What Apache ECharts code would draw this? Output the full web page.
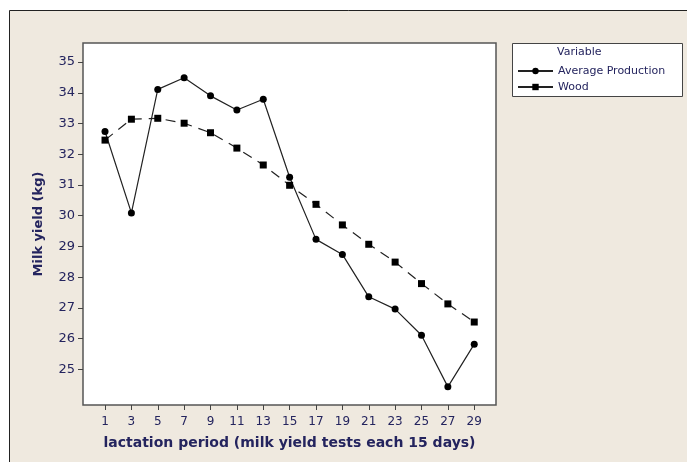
<!DOCTYPE html>
<html>
<head>
<meta charset="utf-8">
<script src="https://cdn.jsdelivr.net/npm/echarts@6/dist/echarts.min.js"></script>
<style>
  html, body { margin: 0; padding: 0; background: #ffffff; }
  #chart { width: 687px; height: 462px; }
</style>
</head>
<body>
<div id="chart"></div>
<script>
// lactation periods (test number)
var periods = [1, 3, 5, 7, 9, 11, 13, 15, 17, 19, 21, 23, 25, 27, 29];
var avgProduction = [32.74, 30.09, 34.11, 34.49, 33.90, 33.44, 33.79, 31.25, 29.23, 28.74, 27.36, 26.96, 26.11, 24.43, 25.82];
var wood = [32.46, 33.14, 33.17, 33.01, 32.70, 32.20, 31.65, 30.99, 30.37, 29.70, 29.07, 28.49, 27.79, 27.13, 26.54];
var yTicks = [25, 26, 27, 28, 29, 30, 31, 32, 33, 34, 35];

var navy = '#24245e';
var font = 'DejaVu Sans';

function pairs(vals) {
    var out = [];
    for (var i = 0; i < periods.length; i++) {
        out.push([periods[i], vals[i]]);
    }
    return out;
}

var option = {
    backgroundColor: '#ffffff',
    animation: false,
    graphic: [
        {
            type: 'rect',
            shape: { x: 9.5, y: 10.5, width: 700, height: 470 },
            style: { fill: '#efe9df', stroke: '#222222', lineWidth: 1 },
            z: -10
        },
        {
            type: 'rect',
            shape: { x: 512.5, y: 43.5, width: 170, height: 53 },
            style: { fill: '#ffffff', stroke: '#444444', lineWidth: 1 },
            z: -5
        },
        {
            type: 'text',
            left: 557,
            top: 47,
            style: { text: 'Variable', fill: navy, font: '11px ' + font }
        }
    ],
    grid: {
        left: 83,
        top: 43,
        width: 413,
        height: 362,
        show: true,
        backgroundColor: '#ffffff',
        borderColor: '#555555',
        borderWidth: 1.5
    },
    legend: {
        orient: 'vertical',
        left: 512,
        top: 59,
        itemWidth: 35,
        itemHeight: 8,
        itemGap: 2,
        lineStyle: { type: 'solid' },
        textStyle: { color: navy, fontSize: 11, fontFamily: font, lineHeight: 14 },
        data: ['Average Production', 'Wood']
    },
    xAxis: {
        type: 'value',
        min: -0.67,
        max: 30.65,
        name: 'lactation period (milk yield tests each 15 days)',
        nameLocation: 'middle',
        nameGap: 31,
        nameTextStyle: { color: navy, fontSize: 14, fontWeight: 'bold', fontFamily: font },
        splitLine: { show: false },
        axisLine: { show: false, onZero: false },
        axisTick: { show: true, length: 5, inside: false, customValues: periods, lineStyle: { color: '#444' } },
        axisLabel: { customValues: periods, color: navy, fontSize: 12, fontFamily: font, margin: 11 }
    },
    yAxis: {
        type: 'value',
        min: 23.84,
        max: 35.62,
        name: 'Milk yield (kg)',
        nameLocation: 'middle',
        nameGap: 38,
        nameTextStyle: { color: navy, fontSize: 13, fontWeight: 'bold', fontFamily: font },
        splitLine: { show: false },
        axisLine: { show: false, onZero: false },
        axisTick: { show: true, length: 5, customValues: yTicks, lineStyle: { color: '#444' } },
        axisLabel: { customValues: yTicks, color: navy, fontSize: 13, fontFamily: font, margin: 8 }
    },
    series: [
        {
            name: 'Average Production',
            type: 'line',
            data: pairs(avgProduction),
            symbol: 'circle',
            symbolSize: 7,
            itemStyle: { color: '#000000' },
            lineStyle: { color: '#222222', width: 1.2, type: 'solid' }
        },
        {
            name: 'Wood',
            type: 'line',
            data: pairs(wood),
            symbol: 'rect',
            symbolSize: 7,
            itemStyle: { color: '#000000' },
            lineStyle: { color: '#222222', width: 1.2, type: [10, 7] }
        }
    ]
};

var myChart = echarts.init(document.getElementById('chart'));
myChart.setOption(option);
</script>
</body>
</html>
